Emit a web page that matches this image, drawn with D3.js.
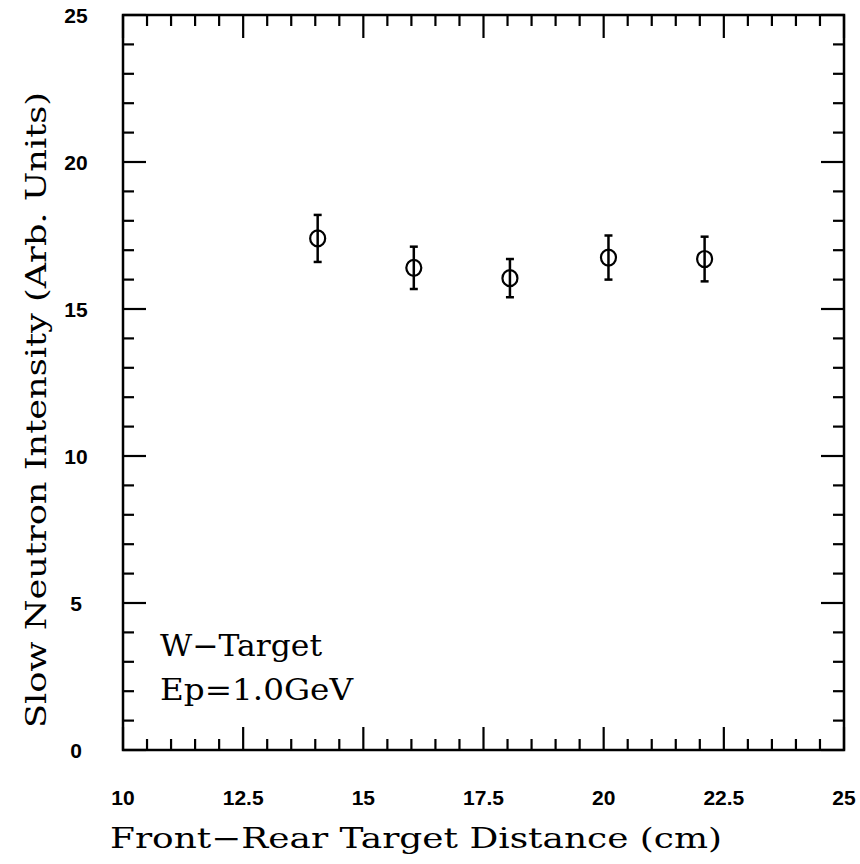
<!DOCTYPE html>
<html>
<head>
  <meta charset="UTF-8">
  <title>Slow Neutron Intensity</title>
  <script src="https://d3js.org/d3.v7.min.js"></script>
  <style>
    body { margin: 0; background: #fff; }
    .tick-label { font-family: "Liberation Sans", Arial, sans-serif; font-weight: bold; font-size: 21px; fill: #000; }
    .title { font-family: "DejaVu Serif", "Liberation Serif", serif; font-size: 28px; fill: #000; }
  </style>
</head>
<body>
  <div id="chart"></div>
  <script>
    // data
    const distance = [14.05, 16.05, 18.05, 20.1, 22.1];
    const intensity = [17.4, 16.4, 16.05, 16.75, 16.7];
    const error = [0.8, 0.72, 0.65, 0.75, 0.76];
    const xTicks = [10, 12.5, 15, 17.5, 20, 22.5, 25];
    const yTicks = [0, 5, 10, 15, 20, 25];
    const notes = ["W\u2212Target", "Ep=1.0GeV"];

    const W = 860, H = 864;
    const margin = { top: 15, right: 16, bottom: 114, left: 123 };
    const width = W - margin.left - margin.right;
    const height = H - margin.top - margin.bottom;

    const x = d3.scaleLinear().domain([10, 25]).range([0, width]);
    const y = d3.scaleLinear().domain([0, 25]).range([height, 0]);

    const svg = d3.select("#chart").append("svg")
      .attr("width", W).attr("height", H);
    const g = svg.append("g")
      .attr("transform", `translate(${margin.left},${margin.top})`);

    // minor / major ticks on all four sides
    const xMinor = d3.range(10, 25.001, 0.5);
    const yMinor = d3.range(0, 25.001, 1);
    const isMajor = (v, step) => Math.abs(v / step - Math.round(v / step)) < 1e-6;

    const ticks = g.append("g").attr("stroke", "#000").attr("stroke-width", 2.2);
    xMinor.forEach(v => {
      const len = isMajor(v, 2.5) ? 23 : 11;
      ticks.append("line").attr("x1", x(v)).attr("x2", x(v)).attr("y1", height).attr("y2", height - len);
      ticks.append("line").attr("x1", x(v)).attr("x2", x(v)).attr("y1", 0).attr("y2", len);
    });
    yMinor.forEach(v => {
      const len = isMajor(v, 5) ? 23 : 11;
      ticks.append("line").attr("y1", y(v)).attr("y2", y(v)).attr("x1", 0).attr("x2", len);
      ticks.append("line").attr("y1", y(v)).attr("y2", y(v)).attr("x1", width).attr("x2", width - len);
    });

    g.append("rect")
      .attr("width", width).attr("height", height)
      .attr("fill", "none").attr("stroke", "#000").attr("stroke-width", 2.5);

    // tick labels
    g.selectAll(".xl").data(xTicks).enter().append("text")
      .attr("class", "tick-label")
      .attr("x", d => x(d)).attr("y", height + 55)
      .attr("text-anchor", "middle")
      .text(d => d);

    g.selectAll(".yl").data(yTicks).enter().append("text")
      .attr("class", "tick-label")
      .attr("x", -47).attr("y", d => y(d) + 8)
      .attr("text-anchor", "middle")
      .text(d => d);

    // axis titles
    svg.append("text")
      .attr("class", "title")
      .attr("x", 110).attr("y", 848)
      .attr("textLength", 612).attr("lengthAdjust", "spacingAndGlyphs")
      .text("Front\u2212Rear Target Distance (cm)");

    svg.append("text")
      .attr("class", "title")
      .attr("transform", "translate(46,728) rotate(-90)")
      .attr("textLength", 636).attr("lengthAdjust", "spacingAndGlyphs")
      .text("Slow Neutron Intensity (Arb. Units)");

    // annotation
    g.selectAll(".note").data(notes).enter().append("text")
      .attr("class", "title")
      .attr("x", 160 - margin.left)
      .attr("y", (d, i) => 656 - margin.top + i * 44)
      .attr("textLength", (d, i) => i === 0 ? 162 : 193)
      .attr("lengthAdjust", "spacingAndGlyphs")
      .style("font-size", "30px")
      .text(d => d);

    // data points with error bars
    const pts = distance.map((d, i) => ({ x: d, y: intensity[i], e: error[i] }));
    const pg = g.selectAll(".pt").data(pts).enter().append("g")
      .attr("stroke", "#000").attr("fill", "none");
    pg.append("line")
      .attr("x1", d => x(d.x)).attr("x2", d => x(d.x))
      .attr("y1", d => y(d.y + d.e)).attr("y2", d => y(d.y - d.e))
      .attr("stroke-width", 2.5);
    pg.append("line")
      .attr("x1", d => x(d.x) - 4).attr("x2", d => x(d.x) + 4)
      .attr("y1", d => y(d.y + d.e)).attr("y2", d => y(d.y + d.e))
      .attr("stroke-width", 2.5);
    pg.append("line")
      .attr("x1", d => x(d.x) - 4).attr("x2", d => x(d.x) + 4)
      .attr("y1", d => y(d.y - d.e)).attr("y2", d => y(d.y - d.e))
      .attr("stroke-width", 2.5);
    pg.append("ellipse")
      .attr("cx", d => x(d.x)).attr("cy", d => y(d.y))
      .attr("rx", 7.5).attr("ry", 8).attr("stroke-width", 2.2);
  </script>
</body>
</html>
